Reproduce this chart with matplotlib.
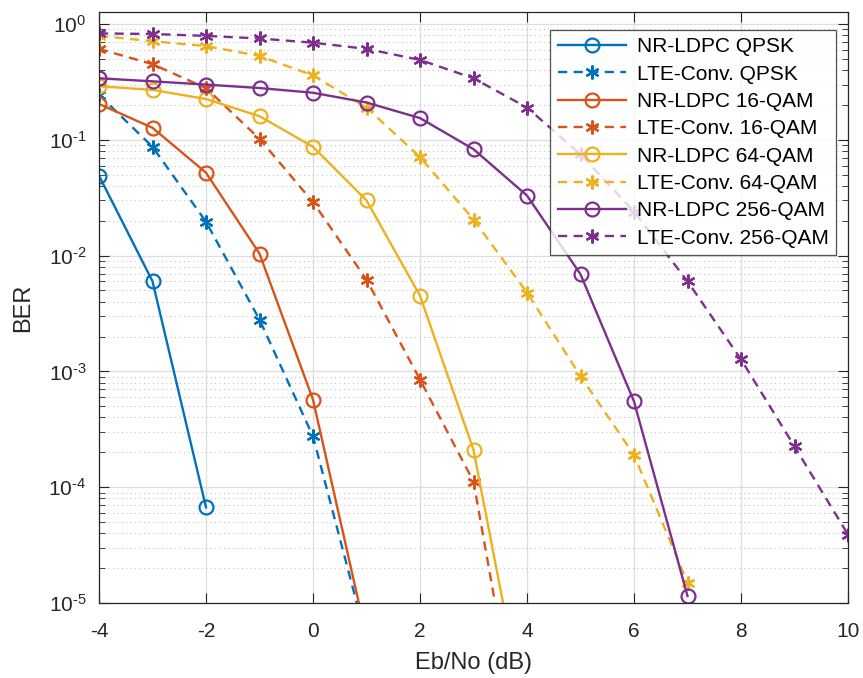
import numpy as np
import matplotlib
matplotlib.use("Agg")
import matplotlib.pyplot as plt
from matplotlib.ticker import LogLocator, NullFormatter, FuncFormatter

plt.rcParams['font.family'] = ['Liberation Sans', 'DejaVu Sans']
plt.rcParams['mathtext.fontset'] = 'custom'
plt.rcParams['mathtext.rm'] = 'Liberation Sans'
plt.rcParams['axes.unicode_minus'] = False

ebno_nr_qpsk = [-4, -3, -2]
ber_nr_qpsk = [0.049, 0.006, 6.7e-5]
ebno_lte_qpsk = [-4, -3, -2, -1, 0, 1]
ber_lte_qpsk = [0.245, 0.087, 0.0196, 0.0028, 2.75e-4, 4.8e-6]

ebno_nr_16 = [-4, -3, -2, -1, 0, 1]
ber_nr_16 = [0.204, 0.127, 0.052, 0.0104, 5.7e-4, 5.1e-6]
ebno_lte_16 = [-4, -3, -2, -1, 0, 1, 2, 3, 4]
ber_lte_16 = [0.61, 0.45, 0.28, 0.102, 0.029, 0.0062, 8.5e-4, 1.12e-4, 2.8e-7]

ebno_nr_64 = [-4, -3, -2, -1, 0, 1, 2, 3, 4]
ber_nr_64 = [0.29, 0.27, 0.225, 0.16, 0.087, 0.030, 0.0045, 2.1e-4, 8.5e-7]
ebno_lte_64 = [-4, -3, -2, -1, 0, 1, 2, 3, 4, 5, 6, 7]
ber_lte_64 = [0.79, 0.71, 0.645, 0.53, 0.36, 0.19, 0.071, 0.0205, 0.0048, 9.1e-4, 1.9e-4, 1.5e-5]

ebno_nr_256 = [-4, -3, -2, -1, 0, 1, 2, 3, 4, 5, 6, 7]
ber_nr_256 = [0.34, 0.32, 0.30, 0.28, 0.255, 0.21, 0.154, 0.083, 0.033, 0.0069, 5.5e-4, 1.15e-5]
ebno_lte_256 = [-4, -3, -2, -1, 0, 1, 2, 3, 4, 5, 6, 7, 8, 9, 10]
ber_lte_256 = [0.83, 0.82, 0.79, 0.75, 0.69, 0.61, 0.49, 0.34, 0.19, 0.075, 0.024, 0.006, 1.27e-3, 2.25e-4, 3.9e-5]

labels = ['NR-LDPC QPSK', 'LTE-Conv. QPSK', 'NR-LDPC 16-QAM', 'LTE-Conv. 16-QAM',
          'NR-LDPC 64-QAM', 'LTE-Conv. 64-QAM', 'NR-LDPC 256-QAM', 'LTE-Conv. 256-QAM']
colors = ['#0072BD', '#D95319', '#EDB120', '#7E2F8E']

series = [
    (ebno_nr_qpsk, ber_nr_qpsk), (ebno_lte_qpsk, ber_lte_qpsk),
    (ebno_nr_16, ber_nr_16), (ebno_lte_16, ber_lte_16),
    (ebno_nr_64, ber_nr_64), (ebno_lte_64, ber_lte_64),
    (ebno_nr_256, ber_nr_256), (ebno_lte_256, ber_lte_256),
]

fig = plt.figure(figsize=(8.63, 6.78), dpi=100)
L, R, B, T = 99 / 863, 848 / 863, 1 - 603 / 678, 1 - 12 / 678
ax = fig.add_axes([L, B, R - L, T - B])

for i, ((x, y), lab) in enumerate(zip(series, labels)):
    c = colors[i // 2]
    if i % 2 == 0:
        ax.plot(x, y, '-', marker='o', color=c, lw=1.7, ms=10, mfc='none', mew=1.6, label=lab)
    else:
        ax.plot(x, y, '--', marker=(6, 2, 0), color=c, lw=1.7, ms=10, mew=1.6, label=lab,
                dashes=(3.9, 2.7))

ax.set_yscale('log')
ax.set_xlim(-4, 10)
ax.set_ylim(1e-5, 1.27)
ax.set_xticks(np.arange(-4, 11, 2))
ax.yaxis.set_major_locator(LogLocator(base=10, numticks=10))
ax.yaxis.set_minor_locator(LogLocator(base=10, subs=np.arange(2, 10), numticks=20))
ax.yaxis.set_minor_formatter(NullFormatter())

def yfmt(v, pos):
    e = int(round(np.log10(v)))
    if e < 0:
        return r'$\mathdefault{10^{\text{-}%d}}$' % (-e)
    return r'$\mathdefault{10^{%d}}$' % e

ax.yaxis.set_major_formatter(FuncFormatter(yfmt))

ax.grid(True, which='major', color='#dedede', lw=0.9, ls='-')
ax.grid(True, which='minor', axis='y', color='#c4c4c4', lw=0.8, ls=(0, (1, 3)))
ax.set_axisbelow(True)

ax.tick_params(which='both', direction='in', top=True, right=True, labelsize=15,
               color='#262626', labelcolor='#262626')
ax.tick_params(axis='x', which='major', pad=14)
ax.tick_params(axis='y', which='major', pad=9)
ax.tick_params(which='major', length=7)
ax.tick_params(which='minor', length=4)
for sp in ax.spines.values():
    sp.set_color('#262626')
    sp.set_linewidth(0.9)

ax.set_xlabel('Eb/No (dB)', fontsize=17, color='#262626', va='center')
ax.set_ylabel('BER', fontsize=17, color='#262626', va='center')
ax.xaxis.set_label_coords(0.5, (603 - 663) / 591)
ax.yaxis.set_label_coords((23.5 - 99) / 749, 0.5)

leg = ax.legend(loc='upper right', bbox_to_anchor=((836 - 99) / 749, (603 - 30) / 591),
                borderaxespad=0, fontsize=15, frameon=True, fancybox=False,
                edgecolor='#262626', handlelength=3.3, labelspacing=0.40,
                handletextpad=0.5, borderpad=0.35)
leg.get_frame().set_linewidth(0.9)

fig.savefig('out.png', dpi=100)
